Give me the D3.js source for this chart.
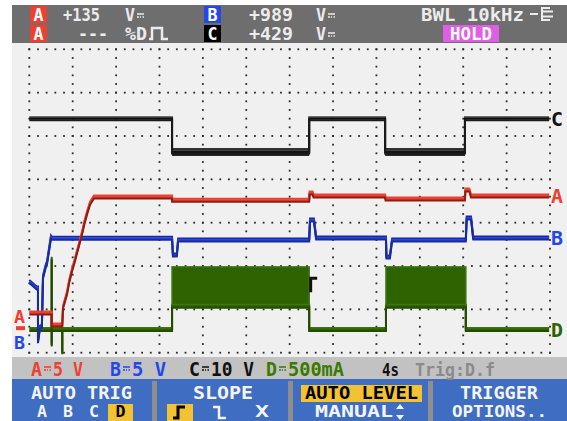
<!DOCTYPE html>
<html>
<head>
<meta charset="utf-8">
<script src="https://d3js.org/d3.v7.min.js"></script>
<style>
  body { margin: 0; background: #fff; }
  svg { display: block; }
  text { font-family: "DejaVu Sans Mono", monospace; font-weight: bold; }
</style>
</head>
<body>
<script>
// scope traces, in screen divisions (time: 0..12 div, level: 0..7 div from bottom)
const timeA = [0, 0.516, 0.516, 0.76, 0.777, 0.82, 0.869, 0.92, 0.984, 1.04, 1.099, 1.16, 1.215, 1.27, 1.33, 1.40, 1.49, 3.29, 3.29, 6.45, 6.46, 6.53, 6.55, 8.20, 8.21, 10.04, 10.05, 10.14, 10.18, 11.98];
const levelA = [0.915, 0.915, 0.64, 0.64, 1.053, 1.2, 1.376, 1.65, 1.906, 2.1, 2.322, 2.55, 2.762, 3.0, 3.22, 3.45, 3.593, 3.593, 3.52, 3.52, 3.685, 3.685, 3.616, 3.616, 3.547, 3.547, 3.754, 3.754, 3.616, 3.616];

const timeB = [0, 0.17, 0.2, 0.2, 0.247, 0.29, 0.316, 0.385, 0.408, 0.454, 0.5, 0.523, 3.29, 3.31, 3.40, 3.43, 6.45, 6.47, 6.56, 6.61, 8.22, 8.23, 8.31, 8.36, 10.06, 10.08, 10.18, 10.23, 11.98];
const levelB = [1.64, 1.49, 1.49, 0.254, 0.59, 0.61, 1.747, 2.02, 2.07, 2.37, 2.67, 2.64, 2.64, 2.254, 2.254, 2.60, 2.60, 3.06, 3.06, 2.647, 2.647, 2.21, 2.21, 2.60, 2.60, 3.107, 3.107, 2.647, 2.647];

const timeC = [0, 3.29, 3.29, 6.45, 6.45, 8.20, 8.20, 10.04, 10.04, 11.98];
const levelC = [5.40, 5.40, 4.63, 4.63, 5.40, 5.40, 4.63, 4.63, 5.40, 5.40];
const noiseC = [[3.29, 6.45], [8.20, 10.04]];   // noisy low sections
const noiseCLevel = [4.54, 4.72];

const timeD = [0, 0.516, 0.516, 0.516, 0.516, 0.76, 0.76, 0.76, 3.29, 3.29, 6.45, 6.45, 8.22, 8.22, 10.06, 10.06, 11.98];
const levelD = [0.535, 0.535, 2.18, 0.18, 0.535, 0.535, 0.0, 0.535, 0.535, 1.07, 1.07, 0.535, 0.535, 1.07, 1.07, 0.535, 0.535];
const burstD = [[3.29, 6.45], [8.22, 10.06]];   // PWM bursts drawn as a band
const burstDLevel = [1.066, 1.98];

const trigTime = 6.45, trigLevel = 1.58;
const zeroA = 0.82, zeroB = 0.25;

// readouts
const headerRow1 = ["+135", "+989"];
const headerRow2 = ["---", "+429"];

const width = 567, height = 421;
const svg = d3.select("body").append("svg")
  .attr("width", width).attr("height", height);

svg.append("rect").attr("width", width).attr("height", height).attr("fill", "#fff");

// screen panels
svg.append("rect").attr("x", 12).attr("y", 5).attr("width", 555).attr("height", 38).attr("fill", "#6e6e6e");
svg.append("rect").attr("x", 12).attr("y", 43).attr("width", 555).attr("height", 314).attr("fill", "#f0f0f0");
svg.append("rect").attr("x", 12).attr("y", 357).attr("width", 555).attr("height", 22).attr("fill", "#c2c2c2");
svg.append("rect").attr("x", 12).attr("y", 379).attr("width", 555).attr("height", 42).attr("fill", "#3e6dc2");

const x = d3.scaleLinear().domain([0, 12]).range([29.3, 550]);
const y = d3.scaleLinear().domain([0, 7]).range([352.7, 49.3]);

// dotted graticule
const dots = [];
d3.range(0, 13).forEach(c => d3.range(0, 36).forEach(k => dots.push([c, k / 5])));
d3.range(0, 8).forEach(r => d3.range(0, 61).forEach(k => dots.push([k / 5, r])));
svg.append("g").selectAll("rect").data(dots).join("rect")
  .attr("x", d => x(d[0]) - 0.9).attr("y", d => y(d[1]) - 0.9)
  .attr("width", 1.8).attr("height", 1.8).attr("fill", "#2a2a2a");

function txt(g, px, py, s, color, size, len, anchor) {
  const t = g.append("text").attr("x", px).attr("y", py).attr("fill", color)
    .attr("font-size", size).text(s);
  if (len) t.attr("textLength", len).attr("lengthAdjust", "spacingAndGlyphs");
  if (anchor) t.attr("text-anchor", anchor);
  return t;
}

const plot = svg.append("g");

// band fills
plot.selectAll(".cnoise").data(noiseC).join("rect")
  .attr("x", d => x(d[0])).attr("width", d => x(d[1]) - x(d[0]))
  .attr("y", y(noiseCLevel[1])).attr("height", y(noiseCLevel[0]) - y(noiseCLevel[1]))
  .attr("fill", "#1a1a1a");

plot.selectAll(".dburst").data(burstD).join("rect")
  .attr("x", d => x(d[0])).attr("width", d => x(d[1]) - x(d[0]))
  .attr("y", y(burstDLevel[1])).attr("height", y(burstDLevel[0]) - y(burstDLevel[1]))
  .attr("fill", "#2f6200").attr("stroke", "#3d7514").attr("stroke-width", 1.5);

// traces: thin verticals, thick horizontals (stacked offset copies)
function trace(t, v, colors) {
  const line = d3.line().x((d, i) => x(t[i])).y((d, i) => y(v[i]));
  const offs = [-1.5, 0, 1.5];
  offs.forEach((o, j) => {
    plot.append("path").datum(t).attr("d", line)
      .attr("transform", `translate(0,${o})`)
      .attr("fill", "none").attr("stroke", colors[j])
      .attr("stroke-width", 2).attr("stroke-linejoin", "miter");
  });
}
trace(timeD, levelD, ["#3d7514", "#2f6200", "#244c00"]);
trace(timeC, levelC, ["#444", "#111", "#1a1a1a"]);
trace(timeB, levelB, ["#1b2a9a", "#2448e8", "#1b2a9a"]);
trace(timeA, levelA, ["#ec4030", "#ec4030", "#8c1d14"]);

// trigger marker
const tx = x(trigTime), ty = y(trigLevel);
plot.append("path")
  .attr("d", `M${tx + 1.5},${ty + 8} V${ty - 6} H${tx + 8}`)
  .attr("fill", "none").attr("stroke", "#111").attr("stroke-width", 3);

// right-side channel labels
const endLabels = [["C", levelC, "#111"], ["A", levelA, "#ec4030"], ["B", levelB, "#2448e8"], ["D", levelD, "#2f6200"]];
endLabels.forEach(d => {
  txt(plot, 551, y(d[1][d[1].length - 1]) + 7, d[0], d[2], 19, 12);
});
// zero-level markers on the left
txt(plot, 14, y(zeroA) + 6, "A", "#ec4030", 18, 11);
plot.append("rect").attr("x", 16).attr("y", y(zeroA) + 9).attr("width", 9).attr("height", 4).attr("fill", "#ec4030");
txt(plot, 14, y(zeroB) + 7, "B", "#2448e8", 18, 11);

// header readouts
const hdr = svg.append("g");
const boxes = [[30, 6, "A", "#ec4030"], [30, 25, "A", "#ec4030"], [204, 6, "B", "#2448e8"], [204, 25, "C", "#000"]];
boxes.forEach(b => {
  hdr.append("rect").attr("x", b[0]).attr("y", b[1]).attr("width", 17).attr("height", 17).attr("fill", b[3]);
  txt(hdr, b[0] + 8.5, b[1] + 15, b[2], "#fff", 17, 10, "middle");
});
const hcol = "#ececec";
txt(hdr, 63, 21, headerRow1[0], hcol, 17, 37);
txt(hdr, 249, 21, headerRow1[1], hcol, 17, 44);
txt(hdr, 78, 40, headerRow2[0], hcol, 17, 30);
txt(hdr, 249, 40, headerRow2[1], hcol, 17, 44);
[[125, 21], [316, 21], [316, 40]].forEach(p => {
  txt(hdr, p[0], p[1], "V", hcol, 17, 10);
  hdr.append("path").attr("d", `M${p[0] + 12},${p[1] - 7} h7 M${p[0] + 12},${p[1] - 4} h2 M${p[0] + 15},${p[1] - 4} h1 M${p[0] + 17.5},${p[1] - 4} h1.5`)
    .attr("stroke", hcol).attr("stroke-width", 1.5);
});
txt(hdr, 125, 40, "%D", hcol, 17, 22);
hdr.append("path").attr("d", "M149,39 H152 V28 H162 V39 H168")
  .attr("fill", "none").attr("stroke", hcol).attr("stroke-width", 2.5);
txt(hdr, 421, 21, "BWL 10kHz", hcol, 17, 103);
hdr.append("path").attr("d", "M530,14 H538 M550,8 H542 V20 H550 M542,11.5 H553 M542,16.5 H553")
  .attr("fill", "none").attr("stroke", hcol).attr("stroke-width", 2);
hdr.append("rect").attr("x", 443).attr("y", 25).attr("width", 56).attr("height", 17).attr("fill", "#e05ee6");
txt(hdr, 471, 40, "HOLD", "#fff", 17, 42, "middle");

// status line
const st = svg.append("g");
const dc = (g, px, py, col) => g.append("path")
  .attr("d", `M${px},${py - 9} h7 M${px},${py - 6} h2 M${px + 3},${py - 6} h1 M${px + 5.5},${py - 6} h1.5`)
  .attr("stroke", col).attr("stroke-width", 1.5);
const stat = [[31, "A", "5 V", "#ec4030", 52], [110, "B", "5 V", "#2448e8", 56], [189, "C", "10 V", "#111", 65], [266, "D", "500mA", "#3a7a00", 78]];
stat.forEach(s => {
  txt(st, s[0], 376, s[1], s[3], 19, 11);
  dc(st, s[0] + 13, 376, s[3]);
  txt(st, s[0] + 22, 376, s[2], s[3], 19, s[4] - 22);
});
txt(st, 382, 376, "4s", "#111", 18, 17);
txt(st, 415, 376, "Trig:D.f", "#8a8a8a", 17, 80).attr("font-weight", "normal");

// softkey bar
const kb = svg.append("g");
[152, 288, 428].forEach(sx => kb.append("rect").attr("x", sx).attr("y", 381).attr("width", 5).attr("height", 40).attr("fill", "#8e8e8e"));
const white = "#f4f4f4";
txt(kb, 31, 399, "AUTO TRIG", white, 18, 101);
txt(kb, 37, 417, "A", white, 16, 10);
txt(kb, 63, 417, "B", white, 16, 10);
txt(kb, 89, 417, "C", white, 16, 10);
kb.append("rect").attr("x", 108).attr("y", 404).attr("width", 25).attr("height", 17).attr("fill", "#f2c233");
txt(kb, 120.5, 417, "D", "#000", 16, 10, "middle");

txt(kb, 193, 399, "SLOPE", white, 18, 60);
kb.append("rect").attr("x", 167).attr("y", 404).attr("width", 26).attr("height", 17).attr("fill", "#f2c233");
kb.append("path").attr("d", "M173,418 H178 V407 H185").attr("fill", "none").attr("stroke", "#000").attr("stroke-width", 3);
kb.append("path").attr("d", "M213,407 H219 V418 H226").attr("fill", "none").attr("stroke", white).attr("stroke-width", 2.5);
txt(kb, 255, 417, "X", white, 16, 14);

kb.append("rect").attr("x", 301).attr("y", 385).attr("width", 121).attr("height", 17).attr("fill", "#f2c233");
txt(kb, 361.5, 399, "AUTO LEVEL", "#000", 18, 113, "middle");
txt(kb, 315, 417, "MANUAL", white, 16, 78);
kb.append("path").attr("d", "M400,404 l4,5 h-8 z M400,420 l4,-5 h-8 z").attr("fill", white);

txt(kb, 460, 399, "TRIGGER", white, 18, 78);
txt(kb, 452, 417, "OPTIONS..", white, 16, 95);
</script>
</body>
</html>
